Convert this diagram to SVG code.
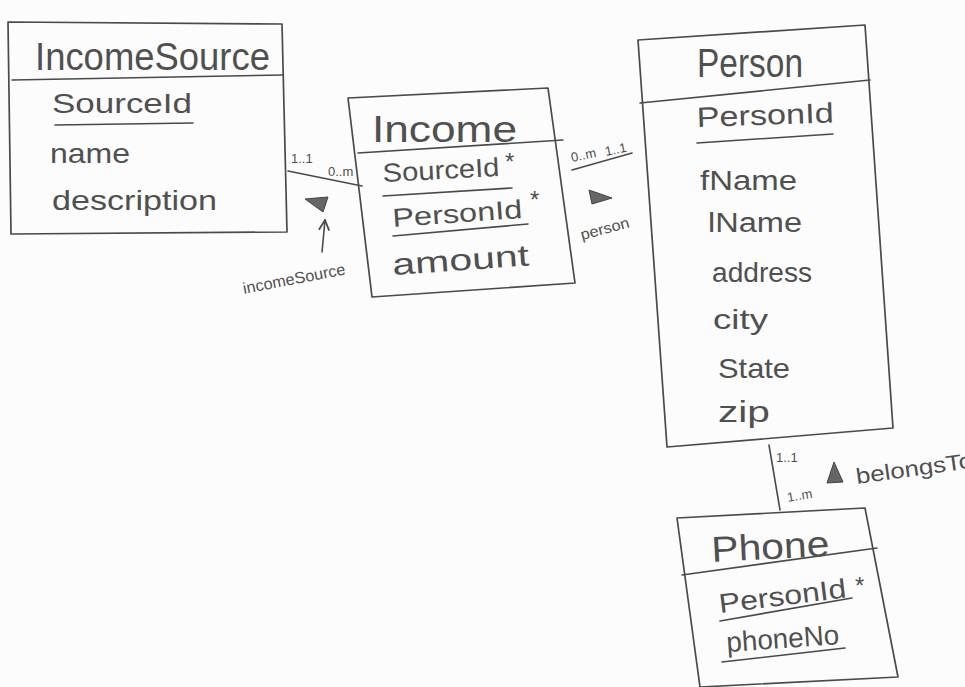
<svg xmlns="http://www.w3.org/2000/svg" width="965" height="687" viewBox="0 0 965 687">
<style>
.box{fill:none;stroke:#4a4a4a;stroke-width:1.7;stroke-linejoin:round}
.ln{fill:none;stroke:#4a4a4a;stroke-width:1.6;stroke-linecap:round}
.t{font-family:"Liberation Sans",Arial,sans-serif;fill:#505050;font-weight:normal}
.tri{fill:#666;stroke:#444;stroke-width:1}
</style>
<defs>
<marker id="ah" viewBox="0 0 10 10" refX="9" refY="5" markerWidth="8" markerHeight="8" orient="auto">
<path d="M1,1 L9,5 L1,9" fill="none" stroke="#4a4a4a" stroke-width="1.4"/>
</marker>
</defs>
<rect width="965" height="687" fill="#fcfcfc"/>

<g id="connectors">
<line class="ln" x1="288" y1="171" x2="362" y2="186"/>
<line class="ln" x1="572" y1="170" x2="632" y2="153"/>
<line class="ln" x1="769" y1="445" x2="780" y2="510"/>
<line class="ln" x1="322" y1="252" x2="325" y2="220" marker-end="url(#ah)"/>
<polygon class="tri" points="305,199 328,197 323,212"/>
<polygon class="tri" points="589,190 612,198 592,204"/>
<polygon class="tri" points="834,462 827,483 843,482"/>
<text class="t" x="291" y="163" font-size="13">1..1</text>
<text class="t" x="328" y="176" font-size="13">0..m</text>
<text class="t" x="572" y="162" font-size="13" transform="rotate(-12 572 162)">0..m</text>
<text class="t" x="606" y="156" font-size="13" transform="rotate(-12 606 156)">1..1</text>
<text class="t" x="776" y="462" font-size="13">1..1</text>
<text class="t" x="788" y="502" font-size="13" transform="rotate(-10 788 502)">1..m</text>
<text class="t" x="244" y="294" font-size="16" textLength="104" lengthAdjust="spacingAndGlyphs" transform="rotate(-11 244 294)">incomeSource</text>
<text class="t" x="582" y="240" font-size="15" textLength="50" lengthAdjust="spacingAndGlyphs" transform="rotate(-15 582 240)">person</text>
<text class="t" x="857" y="484" font-size="22" textLength="118" lengthAdjust="spacingAndGlyphs" transform="rotate(-8 857 484)">belongsTo</text>
</g>

<g id="IncomeSource">
<path class="box" d="M8,22 L282,24 L287,232 L11,234 Z"/>
<line class="ln" x1="12" y1="80" x2="283" y2="75"/>
<text class="t" x="35" y="70" font-size="38" textLength="235" lengthAdjust="spacingAndGlyphs">IncomeSource</text>
<text class="t" x="52" y="113" font-size="28" textLength="140" lengthAdjust="spacingAndGlyphs">SourceId</text>
<line class="ln" x1="55" y1="125" x2="193" y2="123"/>
<text class="t" x="50" y="163" font-size="28" textLength="80" lengthAdjust="spacingAndGlyphs">name</text>
<text class="t" x="52" y="210" font-size="28" textLength="165" lengthAdjust="spacingAndGlyphs">description</text>
</g>

<g id="Income">
<path class="box" d="M348,98 L548,88 L575,283 L372,297 Z"/>
<line class="ln" x1="358" y1="153" x2="563" y2="140"/>
<text class="t" x="372" y="142" font-size="36" textLength="145" lengthAdjust="spacingAndGlyphs">Income</text>
<text class="t" x="383" y="182" font-size="26" textLength="117" lengthAdjust="spacingAndGlyphs" transform="rotate(-3 383 182)">SourceId</text>
<text class="t" x="505" y="170" font-size="24">*</text>
<line class="ln" x1="383" y1="196" x2="512" y2="188"/>
<text class="t" x="393" y="227" font-size="26" textLength="130" lengthAdjust="spacingAndGlyphs" transform="rotate(-4 393 227)">PersonId</text>
<text class="t" x="530" y="208" font-size="24">*</text>
<line class="ln" x1="393" y1="236" x2="528" y2="224"/>
<text class="t" x="393" y="275" font-size="30" textLength="137" lengthAdjust="spacingAndGlyphs" transform="rotate(-4 393 275)">amount</text>
</g>

<g id="Person">
<path class="box" d="M638,40 L865,25 L893,428 L667,447 Z"/>
<line class="ln" x1="640" y1="103" x2="870" y2="80"/>
<text class="t" x="697" y="77" font-size="40" textLength="106" lengthAdjust="spacingAndGlyphs">Person</text>
<text class="t" x="697" y="127" font-size="28" textLength="137" lengthAdjust="spacingAndGlyphs" transform="rotate(-2 697 127)">PersonId</text>
<line class="ln" x1="697" y1="143" x2="833" y2="134"/>
<text class="t" x="700" y="190" font-size="27" textLength="97" lengthAdjust="spacingAndGlyphs">fName</text>
<text class="t" x="708" y="232" font-size="27" textLength="94" lengthAdjust="spacingAndGlyphs">lName</text>
<text class="t" x="712" y="282" font-size="27" textLength="100" lengthAdjust="spacingAndGlyphs">address</text>
<text class="t" x="713" y="329" font-size="28" textLength="55" lengthAdjust="spacingAndGlyphs">city</text>
<text class="t" x="718" y="378" font-size="28" textLength="72" lengthAdjust="spacingAndGlyphs">State</text>
<text class="t" x="718" y="422" font-size="30" textLength="52" lengthAdjust="spacingAndGlyphs">zip</text>
</g>

<g id="Phone">
<path class="box" d="M677,518 L865,508 L898,677 L700,687 Z"/>
<line class="ln" x1="682" y1="575" x2="877" y2="548"/>
<text class="t" x="712" y="562" font-size="36" textLength="118" lengthAdjust="spacingAndGlyphs" transform="rotate(-3 712 562)">Phone</text>
<text class="t" x="720" y="613" font-size="27" textLength="128" lengthAdjust="spacingAndGlyphs" transform="rotate(-7 720 613)">PersonId</text>
<text class="t" x="855" y="594" font-size="24">*</text>
<line class="ln" x1="720" y1="621" x2="852" y2="598"/>
<text class="t" x="727" y="652" font-size="28" textLength="113" lengthAdjust="spacingAndGlyphs" transform="rotate(-4 727 652)">phoneNo</text>
<line class="ln" x1="722" y1="662" x2="845" y2="648"/>
</g>
</svg>
